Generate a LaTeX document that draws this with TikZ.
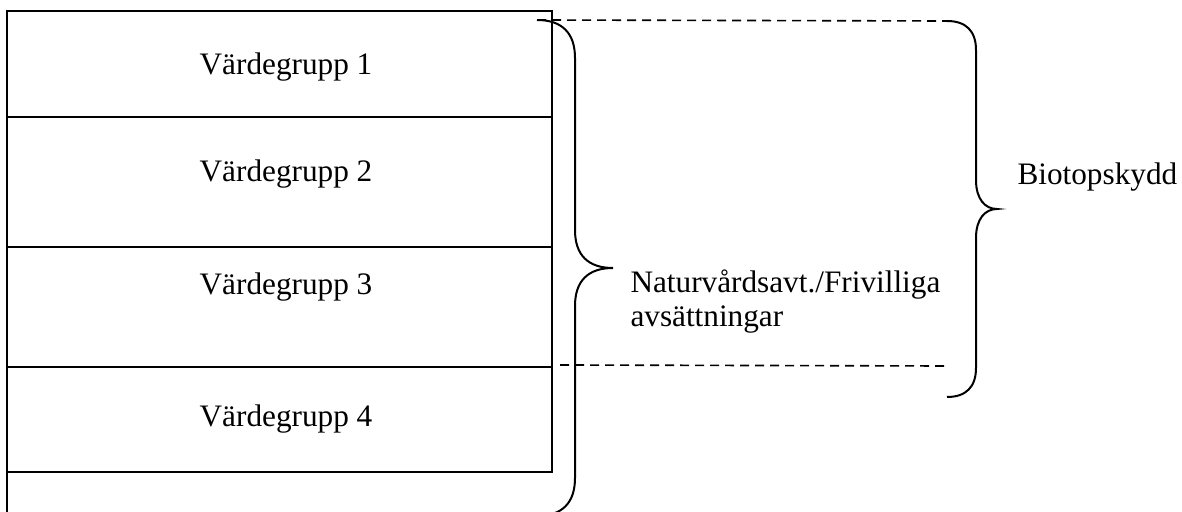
\documentclass[tikz,border=0pt]{standalone}
\usepackage{fontspec}
\setmainfont{Liberation Serif}
\usetikzlibrary{positioning}
\tikzset{label/.style={font=\fontsize{12.5}{13.6}\selectfont,inner sep=0pt},
frame/.style={line width=0.8pt,line join=miter},
curly/.style={line width=0.8pt},
guide/.style={line width=0.65pt,dash pattern=on 3.6pt off 2.4pt}}

\begin{document}
\begin{tikzpicture}[x=0.4pt,y=-0.4pt]
		\useasboundingbox (0,0) rectangle (1182,512);
		% the value groups
		\draw[frame] (7.3,516) -- (7.3,11) -- (551.7,11) -- (551.7,471.7) -- (7.3,471.7);
		\foreach \y in {116.7,246.7,366.7}
			\draw[frame] (7.3,\y) -- (551.7,\y);
		\foreach \i/\y in {1/75,2/181.7,3/295,4/426.7}
			\node[label,anchor=base] (vg\i) at (286,\y) {Värdegrupp \i};
		% end points of the braces
		\coordinate (natTop) at (537,20);
		\coordinate (natTip) at (613,268);
		\coordinate (natEnd) at (537,516);
		\coordinate (bioTop) at (947,21);
		\coordinate (bioTip) at (997,209);
		\coordinate (bioEnd) at (947,397);
		\coordinate (cutStart) at (560,365);
		\coordinate (cutEnd) at (947,366);
		\draw[guide] (natTop) -- (bioTop);
		\draw[guide] (cutStart) -- (cutEnd);
		% left brace
		\draw[curly] (natTop) .. controls (562,20) and (575,33) .. (575,58) -- (575,230)
			.. controls (575,255) and (588,268) .. (natTip)
			.. controls (588,268) and (575,281) .. (575,306) -- (575,478)
			.. controls (575,503) and (562,516) .. (natEnd);
		% right brace
		\draw[curly] (bioTop) .. controls (966,21) and (976,31) .. (976,50) -- (976,180)
			.. controls (976,199) and (985,209) .. (bioTip)
			.. controls (985,209) and (976,219) .. (976,238) -- (976,368)
			.. controls (976,387) and (966,397) .. (bioEnd);
		\node[label,anchor=base west,align=left] (natur) at (630,327) {Naturvårdsavt./Frivilliga\\avsättningar};
		\node[label,anchor=base west] (biotop) at (1017,185) {Biotopskydd};
	\end{tikzpicture}
\end{document}
